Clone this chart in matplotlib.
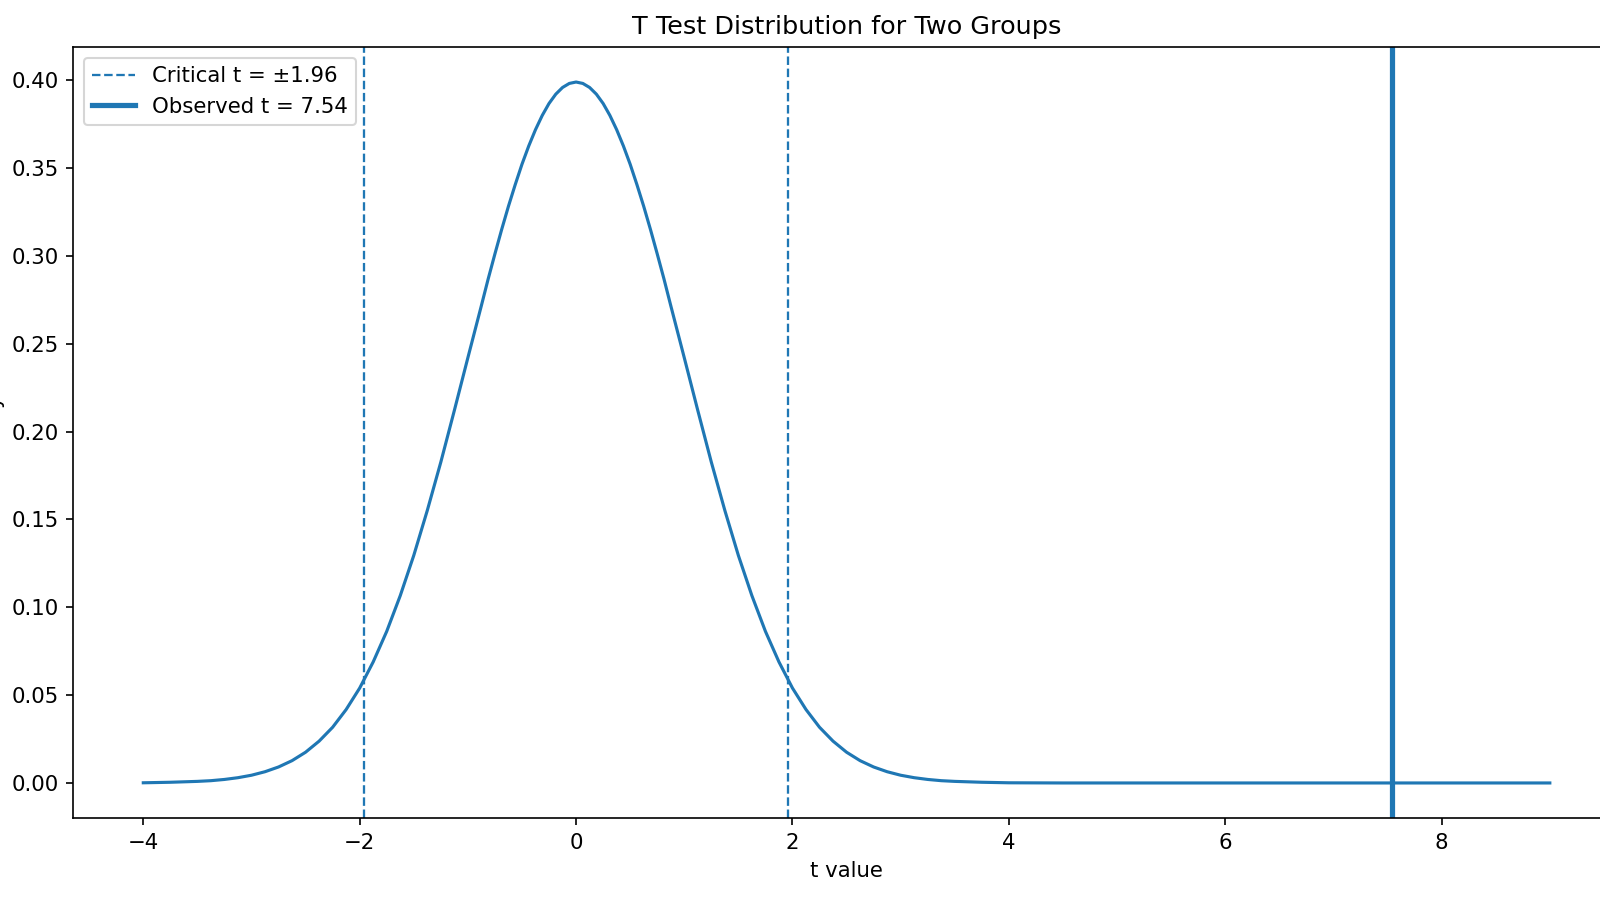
import matplotlib
matplotlib.use("Agg")
import matplotlib.pyplot as plt

plt.rcParams["font.size"] = 10.2

# curve (t distribution, large df)
t_vals = [-4.0, -3.75, -3.5, -3.375, -3.25, -3.125, -3.0, -2.875, -2.75, -2.625,
          -2.5, -2.375, -2.25, -2.125, -2.0, -1.875, -1.75, -1.625, -1.5, -1.375,
          -1.25, -1.125, -1.0, -0.875, -0.8125, -0.75, -0.6875, -0.625, -0.5625, -0.5,
          -0.4375, -0.375, -0.3125, -0.25, -0.1875, -0.125, -0.0625, 0.0, 0.0625, 0.125,
          0.1875, 0.25, 0.3125, 0.375, 0.4375, 0.5, 0.5625, 0.625, 0.6875, 0.75,
          0.8125, 0.875, 1.0, 1.125, 1.25, 1.375, 1.5, 1.625, 1.75, 1.875,
          2.0, 2.125, 2.25, 2.375, 2.5, 2.625, 2.75, 2.875, 3.0, 3.125,
          3.25, 3.375, 3.5, 3.75, 4.0, 4.5, 5.0, 6.0, 7.0, 8.0, 9.0]
dens = [0.0001, 0.0004, 0.0009, 0.0013, 0.0020, 0.0030, 0.0044, 0.0064, 0.0091, 0.0127,
        0.0175, 0.0238, 0.0317, 0.0418, 0.0540, 0.0689, 0.0863, 0.1066, 0.1295, 0.1551,
        0.1826, 0.2120, 0.2420, 0.2717, 0.2868, 0.3011, 0.3150, 0.3282, 0.3405, 0.3521,
        0.3625, 0.3718, 0.3799, 0.3867, 0.3920, 0.3958, 0.3981, 0.3989, 0.3981, 0.3958,
        0.3920, 0.3867, 0.3799, 0.3718, 0.3625, 0.3521, 0.3405, 0.3282, 0.3150, 0.3011,
        0.2868, 0.2717, 0.2420, 0.2120, 0.1826, 0.1551, 0.1295, 0.1066, 0.0863, 0.0689,
        0.0540, 0.0418, 0.0317, 0.0238, 0.0175, 0.0127, 0.0091, 0.0064, 0.0044, 0.0030,
        0.0020, 0.0013, 0.0009, 0.0004, 0.0001, 0.0000, 0.0000, 0.0000, 0.0000, 0.0000, 0.0000]

t_crit = 1.96
t_obs = 7.54

DPI = 150
fig = plt.figure(figsize=(1600 / DPI, 900 / DPI), dpi=DPI)
ax = fig.add_axes([0.0456, 0.0911, 0.967, 0.8567])

ax.plot(t_vals, dens, color="C0", lw=1.5)
ax.axvline(-t_crit, color="C0", ls="--", lw=1.1, label=f"Critical t = \u00b1{t_crit}")
ax.axvline(t_crit, color="C0", ls="--", lw=1.1)
ax.axvline(t_obs, color="C0", ls="-", lw=2.5, label=f"Observed t = {t_obs}")

ax.set_title("T Test Distribution for Two Groups")
ax.set_xlabel("t value")
ax.set_ylabel("Density")
ax.legend(loc="upper left")

fig.savefig("out.png", dpi=DPI)
